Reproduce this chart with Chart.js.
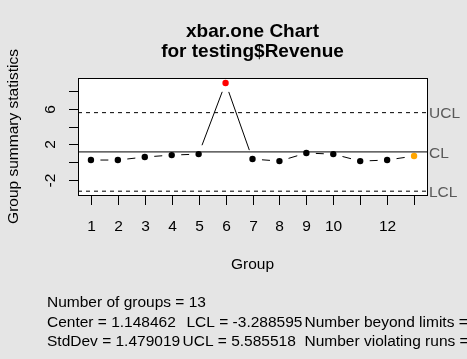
<!DOCTYPE html>
<html>
<head>
<meta charset="utf-8">
<script src="https://cdn.jsdelivr.net/npm/chart.js@4/dist/chart.umd.min.js"></script>
<style>
    html, body { margin: 0; padding: 0; background: #e5e5e5; }
    canvas { display: block; }
</style>
</head>
<body>
<canvas id="qcc" width="467" height="359"></canvas>
<script>
// values
const groups = [1, 2, 3, 4, 5, 6, 7, 8, 9, 10, 11, 12, 13];
const groupStats = [0.23, 0.23, 0.57, 0.79, 0.90, 8.94, 0.34, 0.11, 1.02, 0.90, 0.11, 0.23, 0.68];
const violatingRuns = [13];
const center = 1.148462;
const lcl = -3.288595;
const ucl = 5.585518;
const stdDev = 1.479019;

const xTickLabels = ["1", "2", "3", "4", "5", "6", "7", "8", "9", "10", "", "12", ""];
const yTicks = [-2, 0, 2, 4, 6, 8];
const yTickLabels = ["-2", "", "2", "", "6", ""];

const FONT = '"Liberation Sans", Arial, sans-serif';
const xMin = 0.52, xMax = 13.48;

// colour of each point: red beyond limits, orange for runs
const pointColors = groupStats.map((v, i) => {
    if (v > ucl || v < lcl) return "#ff0000";
    if (violatingRuns.includes(groups[i])) return "#ffa500";
    return "#000000";
});

function limitLine(value) {
    return [{ x: xMin, y: value }, { x: xMax, y: value }];
}

// R style type="b": segments between points, with a gap round each point
function drawGappedLine(ctx, pts, gap) {
    ctx.save();
    ctx.strokeStyle = "#000";
    ctx.lineWidth = 1;
    for (let i = 0; i < pts.length - 1; i++) {
        const a = pts[i], b = pts[i + 1];
        const dx = b.x - a.x, dy = b.y - a.y;
        const len = Math.sqrt(dx * dx + dy * dy);
        if (len <= gap * 2) continue;
        const ux = dx / len, uy = dy / len;
        ctx.beginPath();
        ctx.moveTo(a.x + ux * gap, a.y + uy * gap);
        ctx.lineTo(b.x - ux * gap, b.y - uy * gap);
        ctx.stroke();
    }
    ctx.restore();
}

const qccDecor = {
    id: "qccDecor",
    beforeDraw(chart) {
        const { ctx, chartArea: ca } = chart;
        ctx.save();
        ctx.fillStyle = "#e5e5e5";
        ctx.fillRect(0, 0, chart.width, chart.height);
        ctx.fillStyle = "#ffffff";
        ctx.fillRect(ca.left, ca.top, ca.right - ca.left, ca.bottom - ca.top);
        ctx.restore();
    },
    afterDatasetsDraw(chart) {
        const { ctx, chartArea: ca, scales } = chart;
        const xs = scales.x, ys = scales.y;

        // the statistic line
        const meta = chart.getDatasetMeta(3);
        drawGappedLine(ctx, meta.data.map(p => ({ x: p.x, y: p.y })), 9.5);

        ctx.save();
        // box
        ctx.strokeStyle = "#000";
        ctx.lineWidth = 1;
        ctx.strokeRect(Math.round(ca.left) + 0.5, Math.round(ca.top) + 0.5,
            Math.round(ca.right - ca.left), Math.round(ca.bottom - ca.top));

        // x ticks and labels
        ctx.fillStyle = "#000";
        ctx.font = "15.5px " + FONT;
        ctx.textAlign = "center";
        ctx.textBaseline = "alphabetic";
        groups.forEach((g, i) => {
            const px = Math.round(xs.getPixelForValue(g)) + 0.5;
            ctx.beginPath();
            ctx.moveTo(px, ca.bottom + 1);
            ctx.lineTo(px, ca.bottom + 10);
            ctx.stroke();
            if (xTickLabels[i]) ctx.fillText(xTickLabels[i], px, 231);
        });

        // y ticks and rotated labels
        yTicks.forEach((t, i) => {
            const py = Math.round(ys.getPixelForValue(t)) + 0.5;
            ctx.beginPath();
            ctx.moveTo(ca.left - 9, py);
            ctx.lineTo(ca.left, py);
            ctx.stroke();
            if (yTickLabels[i]) {
                ctx.save();
                ctx.translate(55, py);
                ctx.rotate(-Math.PI / 2);
                ctx.fillText(yTickLabels[i], 0, 0);
                ctx.restore();
            }
        });

        // axis titles
        ctx.fillText("Group", (ca.left + ca.right) / 2, 269);
        ctx.save();
        ctx.translate(18, (ca.top + ca.bottom) / 2);
        ctx.rotate(-Math.PI / 2);
        ctx.fillText("Group summary statistics", 0, 0);
        ctx.restore();

        // limit labels on the right
        ctx.fillStyle = "#595959";
        ctx.textAlign = "left";
        [["UCL", ucl], ["CL", center], ["LCL", lcl]].forEach(([name, v]) => {
            ctx.fillText(name, ca.right + 2, ys.getPixelForValue(v) + 5.8);
        });

        // main title
        ctx.fillStyle = "#000";
        ctx.textAlign = "center";
        ctx.font = "bold 19px " + FONT;
        const cx = (ca.left + ca.right) / 2;
        ctx.fillText("xbar.one Chart", cx, 37);
        ctx.fillText("for testing$Revenue", cx, 57);

        // summary text
        ctx.font = "15.5px " + FONT;
        ctx.textAlign = "left";
        ctx.fillText("Number of groups = " + groups.length, 47, 307);
        ctx.fillText("Center = " + center.toFixed(6), 47, 327);
        ctx.fillText("LCL = " + lcl.toFixed(6), 186.5, 327);
        ctx.fillText("Number beyond limits = ", 304.5, 327);
        ctx.fillText("StdDev = " + stdDev.toFixed(6), 47, 346);
        ctx.fillText("UCL = " + ucl.toFixed(6), 182.5, 346);
        ctx.fillText("Number violating runs = ", 304.5, 346);
        ctx.restore();
    }
};

new Chart(document.getElementById("qcc"), {
    type: "scatter",
    data: {
        datasets: [
            {
                label: "UCL",
                data: limitLine(ucl),
                showLine: true,
                borderColor: "#000",
                borderWidth: 1,
                borderDash: [4, 4],
                pointRadius: 0,
            },
            {
                label: "CL",
                data: limitLine(center),
                showLine: true,
                borderColor: "#000",
                borderWidth: 1,
                pointRadius: 0,
            },
            {
                label: "LCL",
                data: limitLine(lcl),
                showLine: true,
                borderColor: "#000",
                borderWidth: 1,
                borderDash: [4, 4],
                pointRadius: 0,
            },
            {
                label: "Group statistics",
                data: groups.map((g, i) => ({ x: g, y: groupStats[i] })),
                showLine: false,
                pointRadius: 3.2,
                pointBorderWidth: 0,
                pointBackgroundColor: pointColors,
                pointBorderColor: pointColors,
            },
        ],
    },
    options: {
        responsive: false,
        animation: false,
        layout: { padding: { left: 78, top: 78, right: 40, bottom: 164 } },
        plugins: {
            legend: { display: false },
            tooltip: { enabled: false },
        },
        scales: {
            x: { type: "linear", min: xMin, max: xMax, display: false },
            y: { type: "linear", min: -3.72, max: 9.5, display: false },
        },
    },
    plugins: [qccDecor],
});
</script>
</body>
</html>
